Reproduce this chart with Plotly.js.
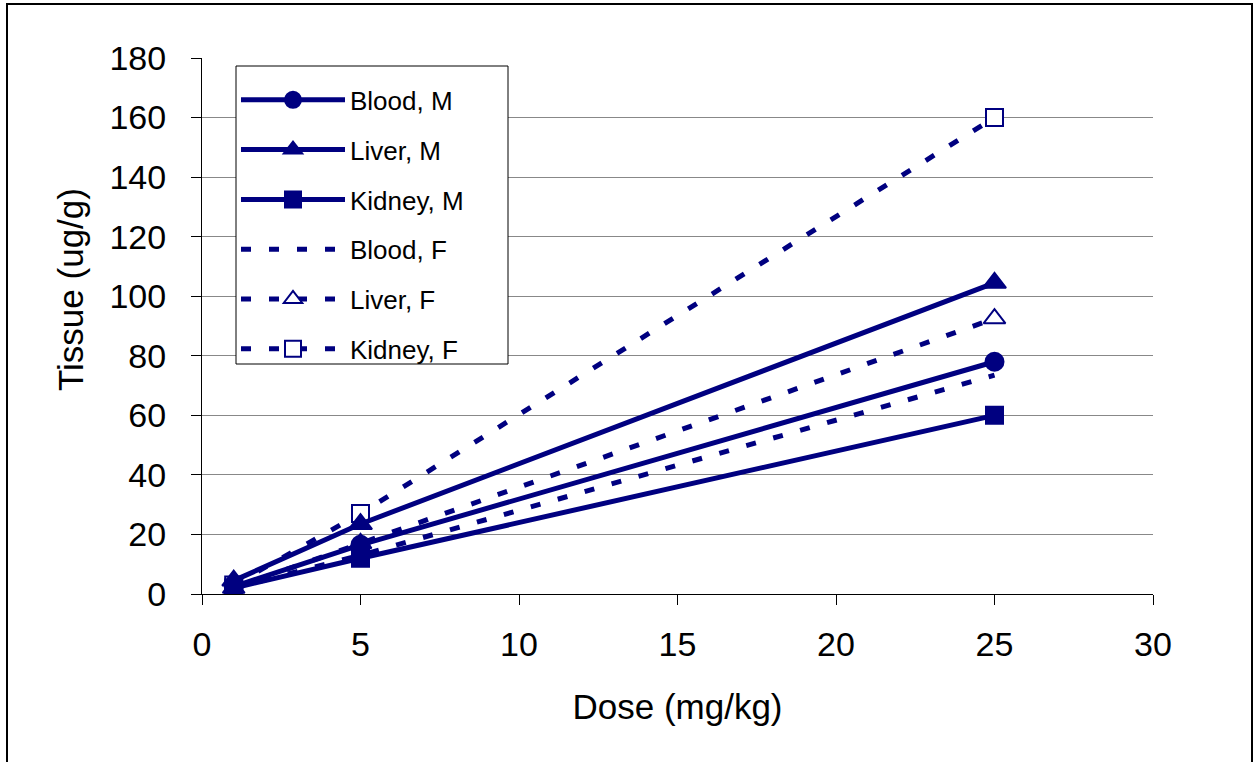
<!DOCTYPE html>
<html>
<head>
<meta charset="utf-8">
<script src="https://cdn.plot.ly/plotly-3.0.1.min.js"></script>
<style>
html,body{margin:0;padding:0;background:#fff;}
#chart{width:1255px;height:762px;}
</style>
</head>
<body>
<div id="chart"></div>
<script>
const dose = [1, 5, 25];
const bloodM = [2.5, 16.5, 78];
const liverM = [4.5, 23.5, 104.5];
const kidneyM = [2, 12, 60];
const bloodF = [2, 13, 73.5];
const liverF = [2, 17, 92.5];
const kidneyF = [3, 27, 160];
const seriesNames = ['Blood, M', 'Liver, M', 'Kidney, M', 'Blood, F', 'Liver, F', 'Kidney, F'];
const xTicks = [0, 5, 10, 15, 20, 25, 30];
const yTicks = [0, 20, 40, 60, 80, 100, 120, 140, 160, 180];
const xTitle = 'Dose (mg/kg)';
const yTitle = 'Tissue (ug/g)';

const navy = '#000080';
const dashPat = '10px,18px';

function tr(y, name, symbol, open, dashed, showMarker, rank, size) {
  return {
    x: dose, y: y, name: name, type: 'scatter',
    mode: showMarker ? 'lines+markers' : 'lines',
    legendgroup: 'g' + rank, legendrank: rank,
    line: {color: navy, width: 5, dash: dashed ? dashPat : 'solid'},
    marker: {symbol: symbol, size: size, color: open ? '#fff' : navy,
             line: {color: navy, width: 2}}
  };
}

// female series drawn first so male markers sit on top
const traces = [
  tr(bloodF, seriesNames[3], 'circle', false, true, false, 4, 18),
  tr(liverF, seriesNames[4], 'triangle-up', true, true, true, 5, 19),
  tr(kidneyF, seriesNames[5], 'square', true, true, true, 6, 17),
  tr(bloodM, seriesNames[0], 'circle', false, false, true, 1, 18),
  tr(liverM, seriesNames[1], 'triangle-up', false, false, true, 2, 20),
  tr(kidneyM, seriesNames[2], 'square', false, false, true, 3, 17)
];

const L = 202, R = 102, T = 58, B = 168;
const W = 1255 - L - R, H = 762 - T - B;
function px(x){ return (x - L) / W; }
function py(y){ return (762 - B - y) / H; }

const layout = {
  width: 1255, height: 762,
  margin: {l: L, r: R, t: T, b: B},
  paper_bgcolor: '#fff', plot_bgcolor: '#fff',
  font: {family: 'Liberation Sans, Arial, sans-serif', color: '#000'},
  showlegend: true,
  legend: {
    x: px(236), y: py(66), xanchor: 'left', yanchor: 'top',
    bgcolor: 'rgba(0,0,0,0)', borderwidth: 0,
    font: {size: 26, color: '#000'},
    itemwidth: 104, tracegroupgap: 13, traceorder: 'grouped',
    title: {text: ' ', font: {size: 8}}
  },
  xaxis: {
    range: [0, 30], tickvals: xTicks, ticktext: xTicks.map(String),
    showline: true, linecolor: '#000', linewidth: 1,
    ticks: 'outside', ticklen: 10, tickcolor: '#000', tickwidth: 1,
    showgrid: false, zeroline: false,
    tickfont: {size: 34}, ticklabelstandoff: 10,
    title: {text: xTitle, font: {size: 35}, standoff: 32}
  },
  yaxis: {
    range: [0, 180], tickvals: yTicks, ticktext: yTicks.map(String),
    showline: true, linecolor: '#000', linewidth: 1,
    ticks: 'outside', ticklen: 10, tickcolor: '#000', tickwidth: 1,
    showgrid: true, gridcolor: '#888', gridwidth: 1, zeroline: false,
    tickfont: {size: 34}, ticklabelstandoff: 18
  },
  annotations: [
    {text: yTitle, xref: 'paper', yref: 'paper', x: px(70), y: py(290),
     xanchor: 'center', yanchor: 'middle', textangle: -90, showarrow: false,
     font: {size: 35, color: '#000'}}
  ],
  shapes: [
    {type: 'rect', xref: 'paper', yref: 'paper',
     x0: px(7), x1: px(1252), y0: py(775), y1: py(4),
     line: {color: '#000', width: 2}, fillcolor: 'rgba(0,0,0,0)', layer: 'below'},
    {type: 'rect', xref: 'paper', yref: 'paper',
     x0: px(236), x1: px(508), y0: py(364), y1: py(66),
     line: {color: '#000', width: 1}, fillcolor: '#fff', layer: 'above'}
  ]
};

Plotly.newPlot('chart', traces, layout, {displayModeBar: false, staticPlot: true});
</script>
</body>
</html>
